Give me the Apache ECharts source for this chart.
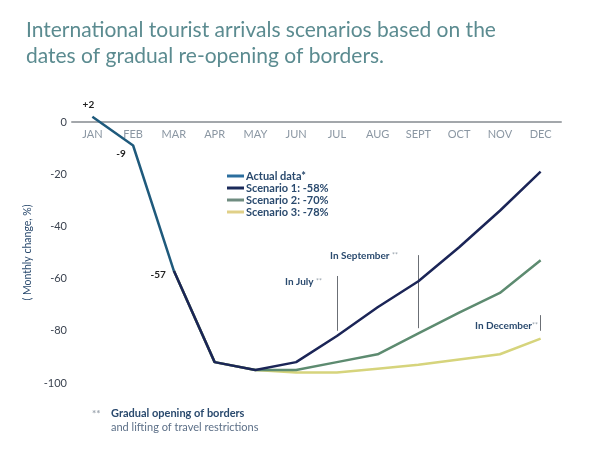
<!DOCTYPE html>
<html>
<head>
<meta charset="utf-8">
<script src="https://cdn.jsdelivr.net/npm/echarts@6/dist/echarts.min.js"></script>
<style>
  html, body { margin: 0; padding: 0; background: #ffffff; }
  #chart { width: 600px; height: 457px; }
</style>
</head>
<body>
<div id="chart"></div>
<script>
// months on the x axis
var months = ['JAN', 'FEB', 'MAR', 'APR', 'MAY', 'JUN', 'JUL', 'AUG', 'SEPT', 'OCT', 'NOV', 'DEC'];
// monthly change, %
var actualData = [2, -9, -57, null, null, null, null, null, null, null, null, null];
var scenario1 = [null, null, -57, -92, -95, -92, -82, -71, -61, -48, -34, -19];
var scenario2 = [null, null, -57, -92, -95, -95, -92, -89, -81, -73, -65.5, -53];
var scenario3 = [null, null, -57, -92, -95, -96, -96, -94.5, -93, -91, -89, -83];
var yTicks = [0, -20, -40, -60, -80, -100];

// vertical markers for re-opening dates
var openings = [
    { month: 'JUL', from: -59, to: -80 },
    { month: 'SEPT', from: -51, to: -79 },
    { month: 'DEC', from: -74, to: -80 }
];

var dark = '#2a4a6e';
var font = 'Lato, "Open Sans", sans-serif';

// label placement for the actual data points
var actualLabelPos = [
    { position: 'top', offset: [-4, -2] },
    { position: 'bottom', offset: [-12, -2] },
    { position: 'left', offset: [-3, 4] }
];

var chart = echarts.init(document.getElementById('chart'));

var option = {
    animation: false,
    backgroundColor: '#ffffff',
    textStyle: { fontFamily: font },
    grid: { left: 72, right: 39, top: 122, bottom: 74 },
    legend: {
        orient: 'vertical',
        left: 222,
        top: 165,
        itemWidth: 17,
        itemHeight: 3,
        itemGap: 0,
        icon: 'rect',
        textStyle: { color: dark, fontSize: 11, fontWeight: 'bold', lineHeight: 12, fontFamily: font, padding: [0, 0, 0, -3] },
        data: [
            { name: 'Actual data*', itemStyle: { color: '#2b6e9e' } },
            { name: 'Scenario 1: -58%', itemStyle: { color: '#1b2a5a' } },
            { name: 'Scenario 2: -70%', itemStyle: { color: '#6f8c80' } },
            { name: 'Scenario 3: -78%', itemStyle: { color: '#e0d088' } }
        ]
    },
    xAxis: {
        type: 'category',
        position: 'top',
        boundaryGap: true,
        data: months,
        axisLine: { lineStyle: { color: '#a3a7ab', width: 2 } },
        axisTick: { show: false },
        axisLabel: { inside: true, margin: 7, color: '#8b97a3', fontSize: 11, fontFamily: font }
    },
    yAxis: {
        type: 'value',
        min: -100,
        max: 0,
        interval: 20,
        name: '( Monthly change, %)',
        nameLocation: 'middle',
        nameGap: 30,
        nameTextStyle: { color: dark, fontSize: 10.5, fontFamily: font },
        axisLine: { show: false },
        axisTick: { show: false },
        splitLine: { show: false },
        axisLabel: {
            margin: 5,
            color: '#3b4350',
            fontSize: 11,
            fontFamily: font,
            formatter: function (v) { return yTicks.indexOf(v) >= 0 ? String(v) : ''; }
        }
    },
    graphic: [
        {
            type: 'text', left: 26, top: 17,
            style: {
                text: 'International tourist arrivals scenarios based on the\ndates of gradual re-opening of borders.',
                fill: '#5b8b90', font: '21px ' + font, lineHeight: 26
            }
        },
        {
            type: 'text', x: 322, y: 282,
            style: {
                text: 'In July {s|**}', align: 'right', verticalAlign: 'middle',
                fill: dark, font: 'bold 10px ' + font,
                rich: { s: { fill: '#9aa3ad', fontSize: 7, fontFamily: font } }
            }
        },
        {
            type: 'text', x: 330, y: 256,
            style: {
                text: 'In September {s|**}', align: 'left', verticalAlign: 'middle',
                fill: dark, font: 'bold 10px ' + font,
                rich: { s: { fill: '#9aa3ad', fontSize: 7, fontFamily: font } }
            }
        },
        {
            type: 'text', x: 538, y: 326,
            style: {
                text: 'In December{s|**}', align: 'right', verticalAlign: 'middle',
                fill: dark, font: 'bold 10px ' + font,
                rich: { s: { fill: '#9aa3ad', fontSize: 7, fontFamily: font } }
            }
        },
        {
            type: 'text', x: 92, y: 409,
            style: { text: '**', fill: '#9aa3ad', font: 'bold 10px ' + font }
        },
        {
            type: 'text', x: 111, y: 408,
            style: { text: 'Gradual opening of borders', fill: dark, font: 'bold 11px ' + font }
        },
        {
            type: 'text', x: 111, y: 422,
            style: { text: 'and lifting of travel restrictions', fill: '#5d7088', font: '11px ' + font }
        }
    ],
    series: [
        {
            name: 'Actual data*',
            type: 'line',
            z: 6,
            clip: false,
            symbol: 'circle',
            symbolSize: 0,
            showSymbol: true,
            lineStyle: { color: '#1f5a7c', width: 2.5 },
            itemStyle: { color: '#2b6e9e' },
            label: {
                show: true,
                color: '#222',
                fontSize: 10,
                fontWeight: 'bold',
                fontFamily: font,
                formatter: function (p) { return (p.value > 0 ? '+' : '') + p.value; }
            },
            data: actualData.map(function (v, i) {
                var item = { value: v };
                if (actualLabelPos[i]) item.label = actualLabelPos[i];
                return item;
            })
        },
        {
            name: 'Scenario 1: -58%',
            type: 'line',
            z: 5,
            symbol: 'none',
            lineStyle: { color: '#1b2557', width: 2.5 },
            itemStyle: { color: '#1b2a5a' },
            data: scenario1,
            markLine: {
                silent: true,
                symbol: 'none',
                label: { show: false },
                lineStyle: { color: '#6b6f75', width: 1, type: 'solid' },
                data: openings.map(function (o) {
                    return [{ coord: [o.month, o.from] }, { coord: [o.month, o.to] }];
                })
            }
        },
        {
            name: 'Scenario 2: -70%',
            type: 'line',
            z: 4,
            symbol: 'none',
            lineStyle: { color: '#5d8b70', width: 2.5 },
            itemStyle: { color: '#6f8c80' },
            data: scenario2
        },
        {
            name: 'Scenario 3: -78%',
            type: 'line',
            z: 3,
            symbol: 'none',
            lineStyle: { color: '#d6d47c', width: 2.5 },
            itemStyle: { color: '#e0d088' },
            data: scenario3
        }
    ]
};

chart.setOption(option);
</script>
</body>
</html>
